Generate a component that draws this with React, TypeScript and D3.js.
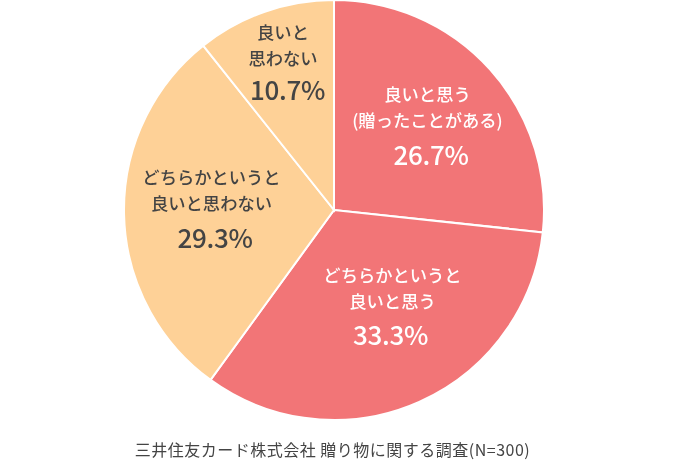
import * as d3 from "d3";
import React from "react";

const labels = ["良いと思う", "どちらかというと良いと思う", "どちらかというと良いと思わない", "良いと思わない"];
const values = [26.7, 33.3, 29.3, 10.7];
const valueLabels = ["26.7%", "33.3%", "29.3%", "10.7%"];
const textLines = [
  ["良いと思う", "(贈ったことがある)"],
  ["どちらかというと", "良いと思う"],
  ["どちらかというと", "良いと思わない"],
  ["良いと", "思わない"],
];
const source = "三井住友カード株式会社 贈り物に関する調査(N=300)";

const colors = ["#f27577", "#f27577", "#fed197", "#fed197"];
const textFill = ["#ffffff", "#ffffff", "#444444", "#444444"];
// x of the text lines, baseline of the first line, x and baseline of the percentage
const labelPos = [
  { x: 427.5, y: 101, vx: 431, vy: 165 },
  { x: 392.5, y: 282, vx: 390.5, vy: 345 },
  { x: 211.5, y: 184, vx: 215, vy: 248 },
  { x: 283, y: 39, vx: 287.5, vy: 100 },
];

const width = 681;
const height = 462;
const cx = 334;
const cy = 210;
const radius = 210;
const font = "'Noto Sans CJK JP', 'Noto Sans', sans-serif";

export default function App() {
  const pie = d3.pie<number>().sort(null)(values);
  const arc = d3.arc<d3.PieArcDatum<number>>().innerRadius(0).outerRadius(radius);
  return (
    <svg width={width} height={height} style={{ position: "fixed", left: 0, top: 0, fontFamily: font }}>
      <g transform={`translate(${cx},${cy})`}>
        {pie.map((d, i) => (
          <path key={labels[i]} d={arc(d) ?? ""} fill={colors[i]} stroke="#ffffff" strokeWidth={2} />
        ))}
      </g>
      {textLines.map((lines, i) => (
        <g key={i} textAnchor="middle" fill={textFill[i]} fontWeight={500}>
          {lines.map((line, j) => (
            <text key={j} x={labelPos[i].x} y={labelPos[i].y + j * 26} fontSize={17.3}>
              {line}
            </text>
          ))}
          <text x={labelPos[i].vx} y={labelPos[i].vy} fontSize={26} letterSpacing={-0.3}>
            {valueLabels[i]}
          </text>
        </g>
      ))}
      <text x={332.5} y={456} textAnchor="middle" fontSize={16} fill="#444444" letterSpacing={0.5}>
        {source}
      </text>
    </svg>
  );
}
